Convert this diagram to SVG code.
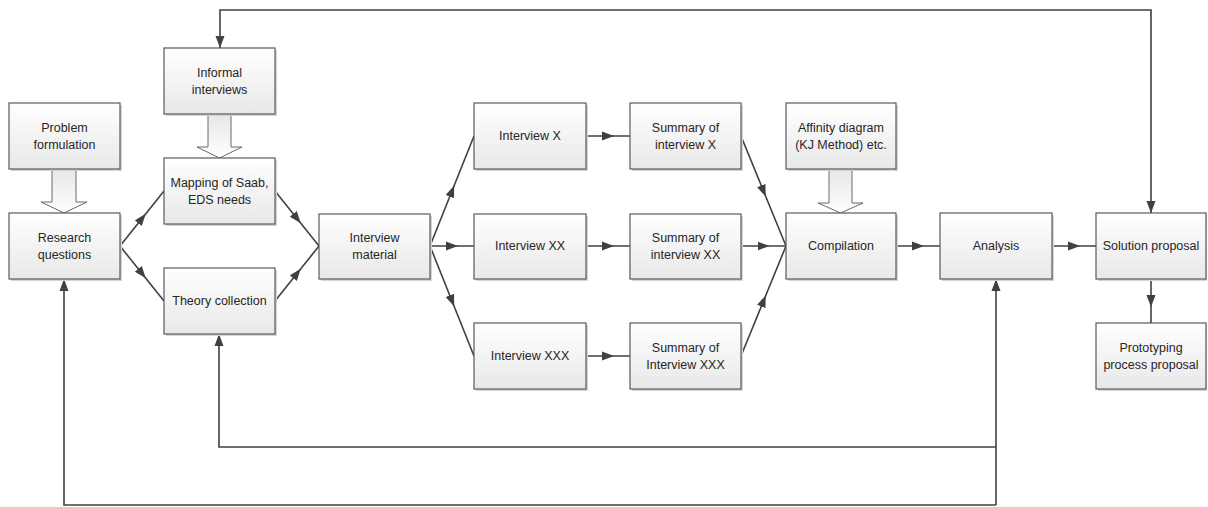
<svg xmlns="http://www.w3.org/2000/svg" width="1208" height="507" viewBox="0 0 1208 507">
  <defs>
    <linearGradient id="boxFill" x1="0" y1="0" x2="0" y2="1">
      <stop offset="0" stop-color="#ffffff"/>
      <stop offset="1" stop-color="#e8e8e8"/>
    </linearGradient>
    <linearGradient id="bigArrowFill" x1="0" y1="0" x2="0" y2="1">
      <stop offset="0" stop-color="#e6e6e6"/>
      <stop offset="1" stop-color="#ffffff"/>
    </linearGradient>
    <marker id="arrow" viewBox="0 0 12 10" refX="12" refY="5" markerWidth="12" markerHeight="10" markerUnits="userSpaceOnUse" orient="auto-start-reverse">
      <path d="M0,0.5 L12,5 L0,9.5 Z" fill="#404040"/>
    </marker>
    <marker id="arrowMid" viewBox="0 0 12 10" refX="6" refY="5" markerWidth="12" markerHeight="10" markerUnits="userSpaceOnUse" orient="auto">
      <path d="M0,0.5 L12,5 L0,9.5 Z" fill="#404040"/>
    </marker>
  </defs>
  <style>
    .box { fill: url(#boxFill); stroke: #5a5a5a; stroke-width: 1.2; }
    .shadow { fill: #d4d4d4; }
    .label { font-family: "Liberation Sans", Arial, sans-serif; font-size: 12.5px; fill: #262626; text-anchor: middle; }
    .conn { fill: none; stroke: #404040; stroke-width: 1.6; }
    .mid { marker-mid: url(#arrowMid); }
    .big { fill: url(#bigArrowFill); stroke: #6a6a6a; stroke-width: 1; }
  </style>

  <!-- connectors -->
  <g id="connectors">
    <!-- feedback loop: top line into Informal interviews and Solution proposal -->
    <path class="conn" d="M220,48 L220,10 L1151,10 L1151,213" marker-start="url(#arrow)" marker-end="url(#arrow)"/>
    <!-- feedback loops from Analysis back to Theory collection and Research questions -->
    <path class="conn" d="M996,505 L996,279" marker-end="url(#arrow)"/>
    <path class="conn" d="M996,447 L219,447 L219,334" marker-end="url(#arrow)"/>
    <path class="conn" d="M996,505 L64,505 L64,279" marker-end="url(#arrow)"/>

    <!-- research questions branch -->
    <path class="conn mid" d="M120,246 L142,218.5 L164,191"/>
    <path class="conn mid" d="M120,246 L142,273.5 L164,301"/>
    <path class="conn mid" d="M275,191 L297,218.5 L319,246"/>
    <path class="conn mid" d="M275,301 L297,273.5 L319,246"/>

    <!-- interview material fan-out -->
    <path class="conn mid" d="M430,246 L452,191 L474,136"/>
    <path class="conn mid" d="M430,246 L452,246 L474,246"/>
    <path class="conn mid" d="M430,246 L452,301 L474,356"/>

    <!-- interviews to summaries -->
    <path class="conn mid" d="M586,136 L608,136 L630,136"/>
    <path class="conn mid" d="M586,246 L608,246 L630,246"/>
    <path class="conn mid" d="M586,356 L608,356 L630,356"/>

    <!-- summaries to compilation -->
    <path class="conn mid" d="M741,136 L763.5,191 L786,246"/>
    <path class="conn mid" d="M741,246 L763.5,246 L786,246"/>
    <path class="conn mid" d="M741,356 L763.5,301 L786,246"/>

    <!-- main chain -->
    <path class="conn mid" d="M896,246 L918,246 L940,246"/>
    <path class="conn mid" d="M1052,246 L1074,246 L1096,246"/>
    <path class="conn mid" d="M1151,279 L1151,301 L1151,323"/>
  </g>

  <!-- block arrows -->
  <g id="block-arrows">
    <path class="big" d="M52,169 L76,169 L76,202 L87,202 L64,213 L41,202 L52,202 Z"/>
    <path class="big" d="M208,114 L231,114 L231,147 L242,147 L219.5,158 L197,147 L208,147 Z"/>
    <path class="big" d="M829,169 L852,169 L852,203 L863,203 L840.5,213 L818,203 L829,203 Z"/>
  </g>

  <!-- nodes -->
  <g id="problem-formulation">
    <rect class="shadow" x="11" y="105" width="111" height="66"/>
    <rect class="box" x="9" y="103" width="111" height="66"/>
    <text class="label" x="64.5" y="132">Problem</text>
    <text class="label" x="64.5" y="149">formulation</text>
  </g>
  <g id="research-questions">
    <rect class="shadow" x="11" y="215" width="111" height="66"/>
    <rect class="box" x="9" y="213" width="111" height="66"/>
    <text class="label" x="64.5" y="242">Research</text>
    <text class="label" x="64.5" y="259">questions</text>
  </g>
  <g id="informal-interviews">
    <rect class="shadow" x="166" y="50" width="111" height="66"/>
    <rect class="box" x="164" y="48" width="111" height="66"/>
    <text class="label" x="219.5" y="77">Informal</text>
    <text class="label" x="219.5" y="94">interviews</text>
  </g>
  <g id="mapping">
    <rect class="shadow" x="166" y="160" width="111" height="66"/>
    <rect class="box" x="164" y="158" width="111" height="66"/>
    <text class="label" x="219.5" y="187">Mapping of Saab,</text>
    <text class="label" x="219.5" y="204">EDS needs</text>
  </g>
  <g id="theory-collection">
    <rect class="shadow" x="166" y="270" width="111" height="66"/>
    <rect class="box" x="164" y="268" width="111" height="66"/>
    <text class="label" x="219.5" y="305">Theory collection</text>
  </g>
  <g id="interview-material">
    <rect class="shadow" x="321" y="216" width="111" height="65"/>
    <rect class="box" x="319" y="214" width="111" height="65"/>
    <text class="label" x="374.5" y="242">Interview</text>
    <text class="label" x="374.5" y="259">material</text>
  </g>
  <g id="interview-x">
    <rect class="shadow" x="476" y="105" width="112" height="66"/>
    <rect class="box" x="474" y="103" width="112" height="66"/>
    <text class="label" x="530" y="140">Interview X</text>
  </g>
  <g id="interview-xx">
    <rect class="shadow" x="476" y="216" width="112" height="65"/>
    <rect class="box" x="474" y="214" width="112" height="65"/>
    <text class="label" x="530" y="250">Interview XX</text>
  </g>
  <g id="interview-xxx">
    <rect class="shadow" x="476" y="325" width="112" height="66"/>
    <rect class="box" x="474" y="323" width="112" height="66"/>
    <text class="label" x="530" y="360">Interview XXX</text>
  </g>
  <g id="summary-x">
    <rect class="shadow" x="632" y="105" width="111" height="66"/>
    <rect class="box" x="630" y="103" width="111" height="66"/>
    <text class="label" x="685.5" y="132">Summary of</text>
    <text class="label" x="685.5" y="149">interview X</text>
  </g>
  <g id="summary-xx">
    <rect class="shadow" x="632" y="216" width="111" height="65"/>
    <rect class="box" x="630" y="214" width="111" height="65"/>
    <text class="label" x="685.5" y="242">Summary of</text>
    <text class="label" x="685.5" y="259">interview XX</text>
  </g>
  <g id="summary-xxx">
    <rect class="shadow" x="632" y="325" width="111" height="66"/>
    <rect class="box" x="630" y="323" width="111" height="66"/>
    <text class="label" x="685.5" y="352">Summary of</text>
    <text class="label" x="685.5" y="369">Interview XXX</text>
  </g>
  <g id="affinity-diagram">
    <rect class="shadow" x="788" y="105" width="110" height="66"/>
    <rect class="box" x="786" y="103" width="110" height="66"/>
    <text class="label" x="841" y="132">Affinity diagram</text>
    <text class="label" x="841" y="149">(KJ Method) etc.</text>
  </g>
  <g id="compilation">
    <rect class="shadow" x="788" y="215" width="110" height="66"/>
    <rect class="box" x="786" y="213" width="110" height="66"/>
    <text class="label" x="841" y="250">Compilation</text>
  </g>
  <g id="analysis">
    <rect class="shadow" x="942" y="215" width="112" height="66"/>
    <rect class="box" x="940" y="213" width="112" height="66"/>
    <text class="label" x="996" y="250">Analysis</text>
  </g>
  <g id="solution-proposal">
    <rect class="shadow" x="1098" y="215" width="109" height="66"/>
    <rect class="box" x="1096" y="213" width="110" height="66"/>
    <text class="label" x="1151" y="250">Solution proposal</text>
  </g>
  <g id="prototyping">
    <rect class="shadow" x="1098" y="325" width="109" height="66"/>
    <rect class="box" x="1096" y="323" width="110" height="66"/>
    <text class="label" x="1151" y="352">Prototyping</text>
    <text class="label" x="1151" y="369">process proposal</text>
  </g>
</svg>
